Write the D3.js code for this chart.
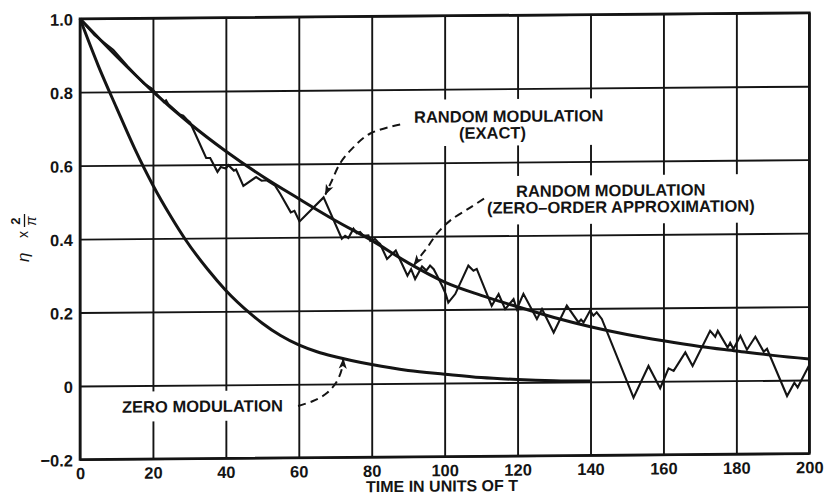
<!DOCTYPE html>
<html>
<head>
<meta charset="utf-8">
<script src="https://cdn.jsdelivr.net/npm/d3@7/dist/d3.min.js"></script>
<style>
  html, body { margin: 0; padding: 0; background: #fff; }
  svg { display: block; }
  text { font-family: "Liberation Sans", Arial, Helvetica, sans-serif; font-weight: bold; fill: #141414; }
</style>
</head>
<body>
<svg id="chart" width="824" height="495"></svg>
<script>
// ---- axis ticks ----
const xTicks = [0, 20, 40, 60, 80, 100, 120, 140, 160, 180, 200];
const yTicks = [-0.2, 0, 0.2, 0.4, 0.6, 0.8, 1.0];
const yTickLabels = ["\u22120.2", "0", "0.2", "0.4", "0.6", "0.8", "1.0"];

// ---- series: [time in units of T, eta * 2/pi] ----
const zeroModulation = [
  [0, 1.0], [5, 0.872], [10, 0.757], [15, 0.645], [20, 0.545], [25, 0.458], [28.8, 0.398],
  [35, 0.315], [40, 0.257], [46.9, 0.192], [50, 0.167], [55, 0.133], [60, 0.107], [65, 0.088],
  [70, 0.074], [80, 0.052], [90, 0.035], [100, 0.024], [110, 0.014], [120, 0.008], [130, 0.004], [140, 0.002]
];

const approxModulation = [
  [0, 1.0], [10, 0.897], [20, 0.80], [30, 0.713], [40, 0.636], [50, 0.567], [60, 0.505], [70, 0.445],
  [80, 0.39], [90, 0.328], [100, 0.275], [110, 0.238], [120, 0.206], [130, 0.176], [140, 0.15],
  [150, 0.128], [160, 0.11], [170, 0.094], [180, 0.081], [190, 0.068], [200, 0.057]
];

const exactModulation = [
  [0, 1.0], [4, 0.955], [7.8, 0.925], [9.1, 0.915], [13, 0.87], [17.4, 0.823], [19.7, 0.808],
  [22.4, 0.778], [23, 0.771], [23.6, 0.776], [24.2, 0.766], [27.4, 0.737], [28.3, 0.734], [29.3, 0.723],
  [30.2, 0.715], [34.6, 0.618], [35.7, 0.618], [37.7, 0.58], [38.6, 0.593], [40, 0.589], [40.7, 0.598],
  [42.2, 0.583], [42.8, 0.586], [44.8, 0.541], [48.3, 0.565], [49.8, 0.555], [51.2, 0.556], [53.5, 0.541],
  [54.9, 0.519], [57.8, 0.468], [58.8, 0.472], [60.2, 0.443], [66.8, 0.508], [71.8, 0.395], [72.7, 0.403],
  [73.6, 0.397], [75, 0.422], [75.9, 0.41], [76.8, 0.413], [77.7, 0.403], [79.1, 0.404], [79.6, 0.389],
  [80.9, 0.394], [81.6, 0.386], [82.3, 0.38], [84.2, 0.339], [86.6, 0.362], [87.8, 0.336], [89.8, 0.293],
  [90.8, 0.311], [91.9, 0.284], [93.8, 0.318], [95, 0.307], [96, 0.32], [97, 0.31], [97.9, 0.293],
  [99.3, 0.265], [100.3, 0.242], [101, 0.219], [102.9, 0.242], [106.5, 0.319], [107.9, 0.305], [108.8, 0.31],
  [112.9, 0.209], [114.8, 0.241], [116.6, 0.2], [118.9, 0.227], [119.8, 0.2], [121.6, 0.241], [125.3, 0.172],
  [126.7, 0.199], [129.9, 0.135], [133.5, 0.208], [136.7, 0.162], [137.4, 0.17], [138.1, 0.162],
  [139.9, 0.194], [140.8, 0.18], [141.7, 0.189], [143.1, 0.171], [151.8, -0.044], [155.9, 0.042],
  [159.1, -0.019], [161.4, 0.035], [162.8, 0.028], [166, 0.078], [168, 0.041], [172.8, 0.136],
  [174.2, 0.12], [174.9, 0.136], [177.6, 0.09], [178.3, 0.103], [179.2, 0.086], [181.1, 0.122],
  [182.9, 0.084], [185.2, 0.119], [187.5, 0.078], [188.4, 0.086], [193.9, -0.043], [195.9, -0.007],
  [196.8, -0.02], [200, 0.041]
];

// ---- callouts: label lines and the dashed leader each one draws to its curve ----
const exactLabel = ["RANDOM MODULATION", "(EXACT)"];
const exactLeader = [[87.8, 0.705], [79.6, 0.681], [74.9, 0.643], [71.3, 0.6], [69.1, 0.554], [67.3, 0.516]];
const approxLabel = ["RANDOM MODULATION", "(ZERO\u2013ORDER APPROXIMATION)"];
const approxLeader = [[110.8, 0.501], [107, 0.477], [101.5, 0.442], [97.9, 0.407], [95.2, 0.369], [93.3, 0.345], [91.6, 0.322]];
const zeroLabel = ["ZERO MODULATION"];
const zeroLeader = [[59.8, -0.059], [63.9, -0.046], [67.8, -0.024], [70.5, 0.008], [71.9, 0.044], [72.2, 0.068]];

const xTitle = "TIME IN UNITS OF T";

// ---- layout ----
const ink = "#141414";
const svg = d3.select("#chart");
const x = d3.scaleLinear().domain([0, 200]).range([80, 809.3]);
const y = d3.scaleLinear().domain([-0.2, 1.0]).range([459.5, 18.7]);
const plotW = x(200) - x(0), plotH = y(-0.2) - y(1.0);

// marker for the leader arrowheads
svg.append("defs").append("marker")
  .attr("id", "head").attr("viewBox", "0 0 12 10")
  .attr("markerUnits", "userSpaceOnUse")
  .attr("markerWidth", 12).attr("markerHeight", 9)
  .attr("refX", 11).attr("refY", 5).attr("orient", "auto")
  .append("path").attr("d", "M0,0.5 L12,5 L0,9.5 L3,5 Z").attr("fill", ink);

// the plotted sheet leans very slightly upward to the right
const root = svg.append("g")
  .attr("transform", "translate(80,0) skewY(-0.47) translate(-80,0)");

// grid via axes
const xAxis = d3.axisBottom(x).tickValues(xTicks).tickSize(-plotH).tickPadding(8)
  .tickFormat(d3.format("d"));
const yAxis = d3.axisLeft(y).tickValues(yTicks).tickSize(-plotW).tickPadding(7)
  .tickFormat((d, i) => yTickLabels[i]);

const gx = root.append("g").attr("transform", `translate(0,${y(-0.2)})`).call(xAxis);
const gy = root.append("g").attr("transform", `translate(${x(0)},0)`).call(yAxis);
[gx, gy].forEach(g => {
  g.select(".domain").remove();
  g.selectAll(".tick line").attr("stroke", ink).attr("stroke-width", 1.9);
  g.selectAll(".tick text").attr("fill", ink).style("font-size", "16.5px")
    .style("font-family", "'Liberation Sans', Arial, sans-serif").style("font-weight", "bold");
});
gy.selectAll(".tick text").attr("dy", "0.38em");

// white knock-outs behind the callout text
const labelLayer = root.append("g");
function callout(lines, starts, baselines, pad) {
  const g = labelLayer.append("g");
  const bg = g.append("rect").attr("fill", "#fff");
  lines.forEach((s, i) => {
    g.append("text").attr("x", starts[i]).attr("y", baselines[i])
      .style("font-size", "16.5px").text(s);
  });
  const texts = g.selectAll("text").nodes();
  let x0 = Infinity, y0 = Infinity, x1 = -Infinity, y1 = -Infinity;
  texts.forEach(t => {
    const b = t.getBBox();
    x0 = Math.min(x0, b.x); y0 = Math.min(y0, b.y);
    x1 = Math.max(x1, b.x + b.width); y1 = Math.max(y1, b.y + b.height);
  });
  bg.attr("x", x0 - pad[0]).attr("y", y0 - pad[1])
    .attr("width", x1 - x0 + pad[0] + pad[2]).attr("height", y1 - y0 + pad[1] + pad[3]);
}
callout(exactLabel, [414, 459], [125.5, 142], [6, 8, 6, 4]);
callout(approxLabel, [516, 487], [200.5, 217], [6, 6, 6, 8]);
callout(zeroLabel, [122], [413], [6, 6, 6, 6]);

// curves
const line = d3.line().x(d => x(d[0])).y(d => y(d[1]));
root.append("path").datum(zeroModulation)
  .attr("d", line.curve(d3.curveMonotoneX))
  .attr("fill", "none").attr("stroke", ink).attr("stroke-width", 3);
root.append("path").datum(approxModulation)
  .attr("d", line.curve(d3.curveMonotoneX))
  .attr("fill", "none").attr("stroke", ink).attr("stroke-width", 3);
root.append("path").datum(exactModulation)
  .attr("d", line.curve(d3.curveLinear))
  .attr("fill", "none").attr("stroke", ink).attr("stroke-width", 2.1)
  .attr("stroke-linejoin", "miter");

// frame
root.append("rect")
  .attr("x", x(0)).attr("y", y(1.0)).attr("width", plotW).attr("height", plotH)
  .attr("fill", "none").attr("stroke", ink).attr("stroke-width", 2.6);

// dashed leaders
const leader = d3.line().x(d => x(d[0])).y(d => y(d[1])).curve(d3.curveCatmullRom);
[exactLeader, approxLeader, zeroLeader].forEach(pts => {
  root.append("path").datum(pts).attr("d", leader)
    .attr("fill", "none").attr("stroke", ink).attr("stroke-width", 2)
    .attr("stroke-dasharray", "8,5").attr("marker-end", "url(#head)");
});

// x-axis title
root.append("text").attr("x", 442).attr("y", 494.5)
  .attr("text-anchor", "middle").style("font-size", "16px").text(xTitle);

// y-axis title: eta x 2/pi, read bottom to top
const yt = svg.append("g").attr("transform", "translate(29,262) rotate(-90)");
yt.append("text").attr("x", 0).attr("y", 0)
  .style("font-size", "17px").style("font-style", "italic").style("font-weight", "normal").text("\u03b7");
yt.append("text").attr("x", 24).attr("y", -1)
  .style("font-size", "14px").style("font-weight", "normal").text("x");
yt.append("text").attr("x", 41).attr("y", -9).attr("text-anchor", "middle")
  .style("font-size", "13px").text("2");
yt.append("line").attr("x1", 35).attr("x2", 48).attr("y1", -4.5).attr("y2", -4.5)
  .attr("stroke", ink).attr("stroke-width", 1.3);
yt.append("text").attr("x", 41).attr("y", 7).attr("text-anchor", "middle")
  .style("font-size", "14px").style("font-style", "italic").style("font-weight", "normal").text("\u03c0");
</script>
</body>
</html>
